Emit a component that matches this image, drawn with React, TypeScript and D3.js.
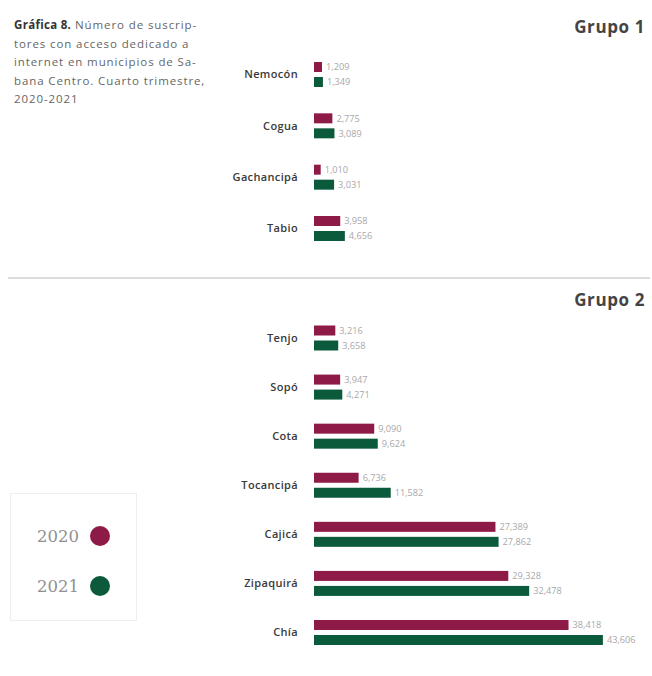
import React from "react";
import * as d3 from "d3";

const group1Categories = ["Nemocón", "Cogua", "Gachancipá", "Tabio"];
const group1Values2020 = [1209, 2775, 1010, 3958];
const group1Values2021 = [1349, 3089, 3031, 4656];

const group2Categories = ["Tenjo", "Sopó", "Cota", "Tocancipá", "Cajicá", "Zipaquirá", "Chía"];
const group2Values2020 = [3216, 3947, 9090, 6736, 27389, 29328, 38418];
const group2Values2021 = [3658, 4271, 9624, 11582, 27862, 32478, 43606];

const seriesNames = ["2020", "2021"];
const titleBold = "Gráfica 8.";
const titleLines = [
  " Número de suscrip-",
  "tores con acceso dedicado a",
  "internet en municipios de Sa-",
  "bana Centro. Cuarto trimestre,",
  "2020-2021",
];
const groupTitles = ["Grupo 1", "Grupo 2"];

const C2020 = "#8e1a47";
const C2021 = "#0c5a3c";
const FONT = "'Open Sans', Lato, sans-serif";

const fmt = d3.format(",");

export default function App() {
  const W = 652;
  const H = 676;
  const x = d3.scaleLinear().domain([0, 44000]).range([314, 605.5]);
  const y1 = d3.scalePoint<string>().domain(group1Categories).range([74.5, 228.5]);
  const y2 = d3.scalePoint<string>().domain(group2Categories).range([338, 632.5]);
  const barH = 10;
  const off = 7.5;

  const renderGroup = (
    cats: string[],
    v20: number[],
    v21: number[],
    y: d3.ScalePoint<string>
  ) =>
    cats.map((c, i) => {
      const cy = y(c)!;
      const rows = [
        { v: v20[i], color: C2020, cy: cy - off },
        { v: v21[i], color: C2021, cy: cy + off },
      ];
      return (
        <g key={c}>
          <text
            x={298}
            y={cy}
            dy="0.35em"
            textAnchor="end"
            fontFamily={FONT}
            fontWeight={600}
            fontSize={11}
            letterSpacing={0.35}
            fill="#3a3a3a"
          >
            {c}
          </text>
          {rows.map((r, j) => (
            <g key={j}>
              <rect
                x={x(0)}
                y={r.cy - barH / 2}
                width={x(r.v) - x(0)}
                height={barH}
                fill={r.color}
              />
              <text
                x={x(r.v) + 4}
                y={r.cy}
                dy="0.35em"
                fontFamily={FONT}
                fontSize={9.2}
                fill="#a8a8a8"
              >
                {fmt(r.v)}
              </text>
            </g>
          ))}
        </g>
      );
    });

  return (
    <svg
      width={W}
      height={H}
      style={{ position: "absolute", left: 0, top: 0, background: "#fff" }}
    >
      <rect x={0} y={0} width={W} height={H} fill="#fff" />
      {/* title */}
      <g fontFamily={FONT} fontSize={11.5} fill="#666" letterSpacing={0.9}>
        {titleLines.map((t, i) => (
          <text key={i} x={14} y={29 + i * 18.5}>
            {i === 0 && (
              <tspan fontWeight={700} fill="#333" letterSpacing={0.3}>
                {titleBold}
              </tspan>
            )}
            {t}
          </text>
        ))}
      </g>
      {/* group titles */}
      <text
        x={645}
        y={33}
        textAnchor="end"
        fontFamily={FONT}
        fontWeight={700}
        fontSize={17}
        letterSpacing={0.6}
        fill="#444"
      >
        {groupTitles[0]}
      </text>
      <line x1={8} x2={650} y1={278} y2={278} stroke="#dcdcdc" strokeWidth={2} />
      <text
        x={645}
        y={306}
        textAnchor="end"
        fontFamily={FONT}
        fontWeight={700}
        fontSize={17}
        letterSpacing={0.6}
        fill="#444"
      >
        {groupTitles[1]}
      </text>
      {renderGroup(group1Categories, group1Values2020, group1Values2021, y1)}
      {renderGroup(group2Categories, group2Values2020, group2Values2021, y2)}
      {/* legend */}
      <rect x={10.5} y={493.5} width={126} height={127} fill="none" stroke="#eeeeee" strokeWidth={1} />
      {seriesNames.map((s, i) => {
        const ly = 536 + i * 50;
        return (
          <g key={s}>
            <text
              x={37}
              y={ly}
              dy="0.35em"
              fontFamily="'DejaVu Serif', serif"
              fontSize={16.5}
              fill="#909090"
            >
              {s}
            </text>
            <circle cx={100} cy={ly} r={10} fill={i === 0 ? C2020 : C2021} />
          </g>
        );
      })}
    </svg>
  );
}
